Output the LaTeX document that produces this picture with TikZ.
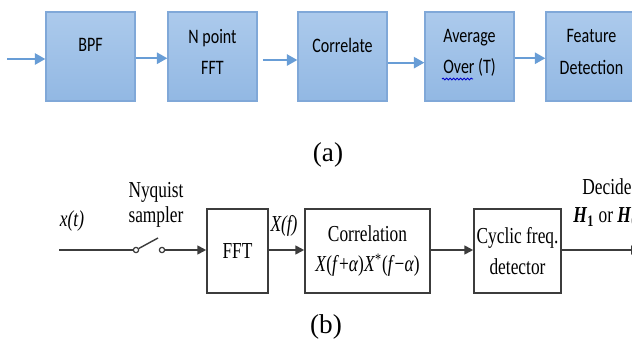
\documentclass[tikz,border=0pt]{standalone}
\usepackage{fontspec}
\setmainfont{Liberation Serif}[FakeStretch=0.76]
\newfontfamily\capfont{Liberation Serif}
\newfontfamily\calibri{Carlito}[FakeStretch=0.78]
\usetikzlibrary{arrows.meta,decorations.pathmorphing}

\definecolor{boxtop}{RGB}{172,202,236}
\definecolor{boxbottom}{RGB}{146,184,227}
\definecolor{boxline}{RGB}{128,168,216}
\definecolor{arrowblue}{RGB}{104,157,214}
\definecolor{darkline}{RGB}{60,60,60}

\tikzset{
  bluebox/.style={draw=boxline, line width=0.8pt, top color=boxtop, bottom color=boxbottom,
    minimum width=1.78cm, minimum height=1.78cm, inner sep=0pt},
  bluetext/.style={font=\calibri\fontsize{11.7}{18}\selectfont, align=center, inner sep=0pt},
  bluearrow/.style={draw=arrowblue, line width=1pt, -{Triangle[length=6pt,width=6.5pt]}},
  graybox/.style={draw=darkline, line width=0.9pt, minimum height=1.68cm, inner sep=0pt,
    align=center, font=\fontsize{13}{17.5}\selectfont},
  blackarrow/.style={draw=darkline, line width=1pt, -{Triangle[length=5pt,width=5pt]}},
  contact/.style={circle, draw=darkline, line width=0.7pt, fill=white, minimum size=3pt, inner sep=0pt},
  lbl/.style={font=\fontsize{13}{14.5}\selectfont, inner sep=0pt, align=center},
  caption/.style={font=\capfont\fontsize{15.5}{16}\selectfont},
}

\begin{document}
\begin{tikzpicture}[x=0.02cm, y=-0.02cm]
  \useasboundingbox (0,0) rectangle (632,338);

  % (a) blue blocks
  \node[bluebox] (bpf) at (90.5,56.5) {};
  \node[bluebox] (nfft) at (212.5,56.5) {};
  \node[bluebox] (corr) at (342.5,56.5) {};
  \node[bluebox] (avg) at (469.5,56.5) {};
  \node[bluebox, minimum width=1.82cm] (feat) at (591.5,56.5) {};

  % block texts
  \node[bluetext] (bpf-t) at (90.5,45) {BPF};
  \node[bluetext] (nfft-t) at (212.5,52) {N point\\FFT};
  \node[bluetext] (corr-t) at (342.5,45) {Correlate};
  \node[bluetext] (avg-t) at (469.5,53) {Average\\Over (T)};
  \node[bluetext] (feat-t) at (591.5,52) {Feature\\Detection};
  \draw[blue!80!black, line width=0.5pt, decorate,
    decoration={snake, amplitude=0.5pt, segment length=2pt}] (442,79) -- (473,79); % squiggle

  % blue arrows
  \coordinate (ain) at (7,59);
  \draw[bluearrow] (ain) -- (ain -| bpf.west);
  \draw[bluearrow] ([yshift=-1pt]bpf.east) -- ([yshift=-1pt]nfft.west);
  \draw[bluearrow, shorten <=3pt] ([yshift=-2pt]nfft.east) -- ([yshift=-2pt]corr.west);
  \draw[bluearrow] ([yshift=-3.5pt]corr.east) -- ([yshift=-3.5pt]avg.west);
  \draw[bluearrow] ([yshift=-1pt]avg.east) -- ([yshift=-1pt]feat.west);

  \node[caption] (cap-a) at (328,155) {(a)};

  % (b) block diagram
  \node[graybox, minimum width=1.22cm] (fftb) at (237.5,251) {FFT};
  \node[graybox, minimum width=2.5cm] (corrb) at (367.5,251)
    {Correlation\\\textit{X}(\textit{f}+\textit{α})\textit{X}\textsuperscript{*}(\textit{f}−\textit{α})};
  \node[graybox, minimum width=1.74cm] (cyc) at (517.5,251) {Cyclic freq.\\detector};

  % sampler switch
  \coordinate (xin) at (59,250);
  \node[contact] (swl) at (136,250) {};
  \node[contact] (swr) at (162,250) {};
  \coordinate (lever) at (158,238);
  \coordinate (xout) at (640,250);

  \draw[darkline, line width=1pt] (xin) -- (swl);
  \draw[darkline, line width=0.8pt] (swl) -- (lever);
  \draw[blackarrow] (swr) -- (swr -| fftb.west);
  \draw[blackarrow] (fftb.east |- swr) -- (corrb.west |- swr);
  \draw[blackarrow] (corrb.east |- swr) -- (cyc.west |- swr);
  \draw[blackarrow] (cyc.east |- swr) -- (xout);

  % labels
  \node[lbl] (xt) at (72,221) {\textit{x(t)}};
  \node[lbl] (nyq) at (156,205) {Nyquist\\sampler};
  \node[lbl] (xf) at (284,226) {\textit{X(f)}};
  \node[lbl, anchor=west] (dec) at (582,187) {Decide};
  \node[lbl, anchor=west] (hyp) at (573,217)
    {\textbf{\textit{H}}\textsubscript{\textbf{1}} or \textbf{\textit{H}}\textsubscript{\textbf{0}}};

  \node[caption] (cap-b) at (326,327) {(b)};
\end{tikzpicture}
\end{document}
